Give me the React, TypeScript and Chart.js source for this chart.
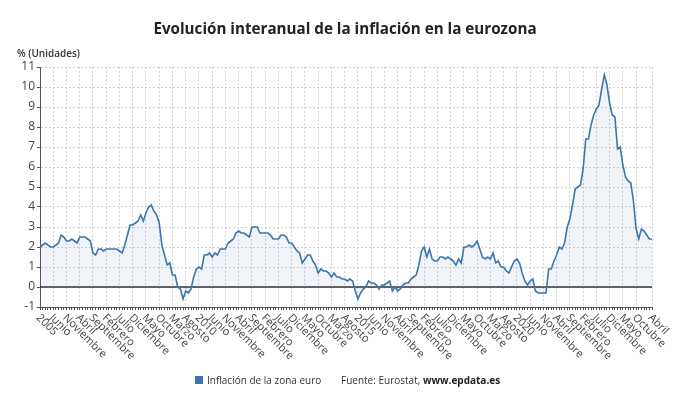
import React, { useEffect, useRef } from 'react';
import { Chart, registerables } from 'chart.js';

Chart.register(...registerables);

const chartTitle = 'Evolución interanual de la inflación en la eurozona';
const unitLabel = '% (Unidades)';
const seriesName = 'Inflación de la zona euro';
const sourceText = 'Fuente: Eurostat, ';
const sourceSite = 'www.epdata.es';

const monthNames = ['Enero', 'Febrero', 'Marzo', 'Abril', 'Mayo', 'Junio', 'Julio', 'Agosto', 'Septiembre', 'Octubre', 'Noviembre', 'Diciembre'];
const firstYear = 2005;
const labelStep = 5;
const yMin = -1;
const yMax = 11;

// Monthly year-on-year inflation, Jan 2005 - Apr 2024
const infl2005_2009 = [
  2.0, 2.1, 2.2, 2.1, 2.0, 2.0, 2.1, 2.2, 2.6, 2.5, 2.3, 2.3,
  2.4, 2.3, 2.2, 2.5, 2.5, 2.5, 2.4, 2.3, 1.7, 1.6, 1.9, 1.9,
  1.8, 1.9, 1.9, 1.9, 1.9, 1.9, 1.8, 1.7, 2.1, 2.6, 3.1, 3.1,
  3.2, 3.3, 3.6, 3.3, 3.7, 4.0, 4.1, 3.8, 3.6, 3.2, 2.1, 1.6,
  1.1, 1.2, 0.6, 0.6, 0.0, -0.1, -0.6, -0.2, -0.3, -0.1, 0.5, 0.9,
];
const infl2010_2014 = [
  1.0, 0.9, 1.6, 1.6, 1.7, 1.5, 1.7, 1.6, 1.9, 1.9, 1.9, 2.2,
  2.3, 2.4, 2.7, 2.8, 2.7, 2.7, 2.6, 2.5, 3.0, 3.0, 3.0, 2.7,
  2.7, 2.7, 2.7, 2.6, 2.4, 2.4, 2.4, 2.6, 2.6, 2.5, 2.2, 2.2,
  2.0, 1.8, 1.7, 1.2, 1.4, 1.6, 1.6, 1.3, 1.1, 0.7, 0.9, 0.8,
  0.8, 0.7, 0.5, 0.7, 0.5, 0.5, 0.4, 0.4, 0.3, 0.4, 0.3, -0.2,
];
const infl2015_2019 = [
  -0.6, -0.3, -0.1, 0.0, 0.3, 0.2, 0.2, 0.1, -0.1, 0.1, 0.1, 0.2,
  0.3, -0.2, 0.0, -0.2, -0.1, 0.1, 0.2, 0.2, 0.4, 0.5, 0.6, 1.1,
  1.8, 2.0, 1.5, 1.9, 1.4, 1.3, 1.3, 1.5, 1.5, 1.4, 1.5, 1.4,
  1.3, 1.1, 1.4, 1.2, 2.0, 2.0, 2.1, 2.0, 2.1, 2.3, 1.9, 1.5,
  1.4, 1.5, 1.4, 1.7, 1.2, 1.3, 1.0, 1.0, 0.8, 0.7, 1.0, 1.3,
];
const infl2020_2024 = [
  1.4, 1.2, 0.7, 0.3, 0.1, 0.3, 0.4, -0.2, -0.3, -0.3, -0.3, -0.3,
  0.9, 0.9, 1.3, 1.6, 2.0, 1.9, 2.2, 3.0, 3.4, 4.1, 4.9, 5.0,
  5.1, 5.9, 7.4, 7.4, 8.1, 8.6, 8.9, 9.1, 9.9, 10.6, 10.1, 9.2,
  8.6, 8.5, 6.9, 7.0, 6.1, 5.5, 5.3, 5.2, 4.3, 2.9, 2.4, 2.9,
  2.8, 2.6, 2.4, 2.4,
];
const inflation = [...infl2005_2009, ...infl2010_2014, ...infl2015_2019, ...infl2020_2024];

const FONT = '"Open Sans", "Noto Sans", sans-serif';
const LINE_COLOR = '#3b77ae';

export default function App() {
  const ref = useRef<HTMLCanvasElement>(null);

  useEffect(() => {
    document.body.style.margin = '0';
    const n = inflation.length;
    const labels = inflation.map((_, i) => {
      const m = i % 12;
      const y = firstYear + Math.floor(i / 12);
      return m === 0 ? String(y) : monthNames[m];
    });
    const shown = (i: number) => (i % labelStep === 0 && i <= n - 4) || i === n - 1;

    const custom = {
      id: 'custom',
      beforeDatasetsDraw(chart: any) {
        const { ctx, chartArea, scales } = chart;
        const y0 = scales.y.getPixelForValue(0);
        ctx.save();
        ctx.strokeStyle = '#333';
        ctx.lineWidth = 1.5;
        ctx.beginPath();
        ctx.moveTo(chartArea.left, y0);
        ctx.lineTo(chartArea.right, y0);
        ctx.stroke();
        ctx.restore();
      },
      afterDraw(chart: any) {
        const { ctx, chartArea, scales } = chart;
        ctx.save();
        ctx.fillStyle = '#444';
        ctx.font = `11px ${FONT}`;
        ctx.textAlign = 'left';
        ctx.textBaseline = 'middle';
        labels.forEach((lab, i) => {
          if (!shown(i)) return;
          const x = scales.x.getPixelForValue(i);
          ctx.save();
          ctx.translate(x - 2, chartArea.bottom + 9);
          ctx.rotate(Math.PI / 4);
          ctx.fillText(lab, 0, 0);
          ctx.restore();
        });
        ctx.fillStyle = '#333';
        ctx.font = `600 10px ${FONT}`;
        ctx.fillText(unitLabel, 17, 54);
        ctx.restore();
      },
    };

    const chart = new Chart(ref.current as HTMLCanvasElement, {
      type: 'line',
      data: {
        labels,
        datasets: [
          {
            label: seriesName,
            data: inflation,
            borderColor: LINE_COLOR,
            borderWidth: 1.6,
            backgroundColor: 'rgba(59,119,174,0.08)',
            fill: 'origin',
            pointRadius: 0,
            tension: 0,
          },
        ],
      },
      options: {
        responsive: false,
        animation: false,
        layout: { padding: { top: 67, right: 38, left: 0, bottom: 0 } },
        plugins: {
          legend: { display: false },
          tooltip: { enabled: false },
          title: { display: false },
        },
        scales: {
          x: {
            type: 'category',
            offset: false,
            afterFit: (s: any) => { s.height = 98; },
            ticks: { display: false, autoSkip: false },
            grid: {
              color: (c: any) => (shown(c.index) ? '#d2d2d2' : 'rgba(0,0,0,0)'),
              lineWidth: 1,
              drawTicks: true,
              tickLength: 3,
              tickColor: '#555',
              tickWidth: 1,
            },
            border: { color: '#555', width: 1, dash: [2, 2] },
          },
          y: {
            min: yMin,
            max: yMax,
            afterFit: (s: any) => { s.width = 40; },
            ticks: { stepSize: 1, color: '#444', font: { family: FONT, size: 12 }, padding: 2 },
            grid: { color: '#d2d2d2', lineWidth: 1, tickLength: 3, tickColor: '#555' },
            border: { color: '#555', width: 1, dash: [2, 2] },
          },
        },
      },
      plugins: [custom],
    });
    return () => chart.destroy();
  }, []);

  return (
    <div style={{ position: 'relative', width: 690, height: 405, fontFamily: FONT, background: '#fff' }}>
      <canvas ref={ref} width={690} height={405} style={{ position: 'absolute', left: 0, top: 0 }} />
      <div style={{ position: 'absolute', left: 0, top: 17, width: 690, textAlign: 'center', fontSize: 15.2, fontWeight: 700, lineHeight: '22px', color: '#222' }}>
        {chartTitle}
      </div>
      <div style={{ position: 'absolute', left: 195, top: 372, fontSize: 10, lineHeight: '16px', color: '#333', display: 'flex', alignItems: 'center' }}>
        <span style={{ display: 'inline-block', width: 8, height: 8, background: LINE_COLOR, marginRight: 4 }} />
        <span>{seriesName}</span>
      </div>
      <div style={{ position: 'absolute', left: 341, top: 372, fontSize: 10, lineHeight: '16px', color: '#333' }}>
        {sourceText}<b style={{ fontWeight: 700, color: '#222' }}>{sourceSite}</b>
      </div>
    </div>
  );
}
